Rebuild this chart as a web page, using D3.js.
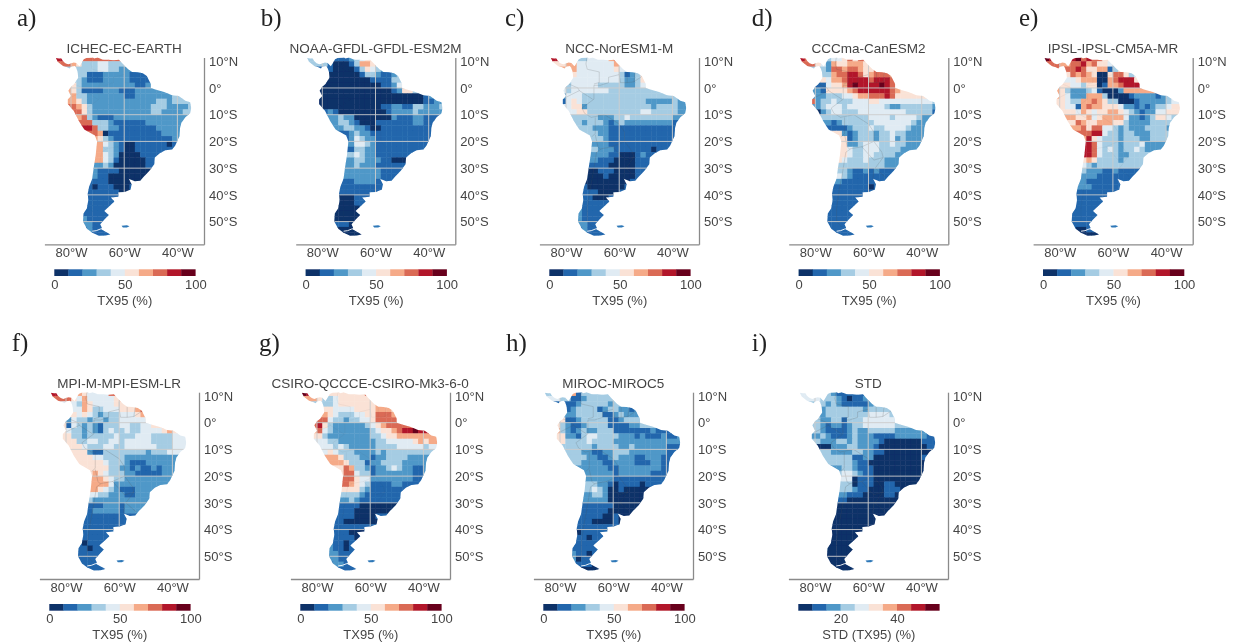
<!DOCTYPE html>
<html><head><meta charset="utf-8">
<script src="https://cdn.jsdelivr.net/npm/d3@7"></script>
<style>html,body{margin:0;background:#fff}svg{display:block}text{font-family:"Liberation Sans",Arial,sans-serif;fill:#444}</style>
</head><body><svg id="c" width="1240" height="644"></svg>
<script>
// class index per 2-degree cell; rows run north to south, columns west to east
const cellsA=["88... 77777 77","..765 33344 3334","....3 33344 33222","....3 31112 22221 111","....3 21112 22221 111","...53 22222 22222 1122","..653 11112 22111 22222 2","..663 32222 22211 22222 2233","...65 32222 22222 22223 323333","...76 53222 22222 22233 322223","....7 53222 22222 22233 222233","....6 73211 12222 22222 22222","..... 77333 21111 11222 2222","..... 88733 22111 11112 2222","..... ..760 11111 11111 2222","..... ..653 21111 11111 1122","..... ...64 32100 11111 101","..... ...63 32100 11111 111","..... ...64 32000 01111","..... ...64 31000 00111","..... ...23 20000 00111","..... ..211 11000 000","..... ..211 00000 000","..... ..111 00000","..... .1011 10001","..... .1111 11001","..... .1111 11","..... .1111 11","..... 11111 11","..... 11111 11","..... 21111 1","..... 22111 1","..... 12111 1","..... ..111 11"];
const cellsB=["33... 11123 455","..331 00013 6654","....1 00001 35432","....0 00000 13321 123","....0 00000 00111 133","...00 00000 00001 1245","..000 00000 00000 01255 3","..000 00000 00000 00000 0012","...00 00000 00000 00000 001122","...00 00000 00001 12211 332223","...12 10000 00000 12222 32222","....2 23220 00000 02111 22111","..... 23321 00011 11111 2211","..... 22332 21001 11111 1111","..... ..123 22111 11111 1111","..... ..124 32211 11111 111","..... ...24 43211 11111 111","..... ...13 32211 11111 11","..... ...34 32211 11111","..... ...23 32221 1000","..... ...23 22211 1111","..... ..222 22221 111","..... ..222 22221 11","..... ..112 22211","..... .1111 11111","..... .1111 1111","..... .0001 11","..... .0001 1","..... 00000 1","..... 00000 0","..... 00000","..... 11100","..... 00000","..... ..000 0"];
const cellsC=["8.... 33444 467","..566 44444 4465","....6 44444 44544","....5 44444 44431 235","....4 44444 44432 235","...34 44443 33332 234","..434 44444 43333 33333 3","..244 43333 33333 33333 3333","..145 43333 33333 33322 222322","...45 52333 33333 33332 333322","....4 55333 33333 33443 33332","....3 33332 22334 33333 33322","..... 32333 21232 22222 2221","..... 33322 21111 11111 1111","..... ..332 21111 11111 1111","..... ..333 21111 11111 111","..... ...22 21111 11111 11","..... ...32 22111 11110 11","..... ...22 21100 01211","..... ...21 11000 0111","..... ..111 10000 011","..... ..001 11000 0111","..... ..000 10000 01","..... ..000 00000 1","..... .1000 00001","..... .1110 0001","..... .1100 01","..... .1111 11","..... 21111 1","..... 21111 1","..... 21111","..... 22111","..... 12111","..... ..111 1"];
const cellsD=["87... 34457 57","..754 26556 6655","....3 27767 76557","....3 36778 87567 776","....5 46678 88878 887","...11 45568 98888 9876","...21 55556 78888 88765","..222 33344 56677 78755 5555","..723 34333 44455 44444 444443","...23 44434 44444 43223 333332","...02 34433 34444 44444 333331","....3 33333 33344 44344 44322","..... 21233 33334 44444 4322","..... 11112 33343 34444 3222","..... ..521 23332 33433 2222","..... ..551 23332 33423 222","..... ...52 23444 33433 222","..... ...54 33444 33332 22","..... ...54 33443 33322","..... ..543 33433 3222","..... ..333 33333 3222","..... ..332 11212 111","..... ..432 11111 11","..... ..211 11111","..... .1111 11101","..... .1111 1111","..... .1111 11","..... .1111 11","..... 11111 1","..... 11111 1","..... 11111","..... 11111","..... 11111","..... ..111 1"];
const cellsE=["98... 89787 75","..766 77867 5543","....7 78755 66135","....5 76765 00577 534","....4 45666 00678 885","...55 44355 01667 888","..653 22234 10002 66666 6","..654 22266 63000 01222 2123","...54 33667 65330 00122 222344","...54 41676 65554 22121 233455","...55 54654 55665 43212 24455","....6 65564 56666 42212 35543","..... 57655 66655 32222 3333","..... 66757 74432 32223 3332","..... ..778 84332 33222 3333","..... ..685 43332 33322 333","..... ...87 43332 33342 2222","..... ...87 43432 33432 22","..... ...87 43332 23333","..... ..565 33332 3333","..... ..432 33333 3333","..... ..322 21121 1111","..... ..222 11111 11","..... ..211 11111","..... .2221 11111","..... .1111 1111","..... .1111 11","..... .1111 11","..... 11111 1","..... 11111 1","..... 11111","..... 11111","..... 10011","..... ..000 0"];
const cellsF=["88... 65444 47","..775 46444 4456","....4 36544 44555","....4 46533 44455 567","....5 45432 33344 456","...24 33233 23344 4445","..514 32321 33344 33445 56","..543 32321 34334 33444 4565","...53 32333 33433 34443 333444","...55 33443 34434 44443 333444","....5 54333 44334 44444 33344","....5 55211 33333 33323 3344","..... 55544 33332 22222 2222","..... 55555 43332 11122 2222","..... ..555 53322 12112 1222","..... ..565 43332 21111 1222","..... ...66 54332 22222 222","..... ...66 64222 22222 22","..... ...65 43211 12222","..... ...43 32221 1222","..... ..322 22222 222","..... ..111 22212 222","..... ..122 22212 22","..... .1111 11111","..... .1111 1111","..... .1111 1111","..... .1111 11","..... .1111 11","..... 10111 1","..... 11011 1","..... 11111","..... 11111","..... 11111","..... ..111 1"];
const cellsG=["98... 55555 557","..653 34555 5555","....3 34555 55556","....5 54444 55556 665","...66 54333 44557 776","...77 43323 34457 7775","..785 32222 22345 67777 7","..674 32222 22234 55678 898","...53 22222 22233 45566 666666","...44 33222 22223 34444 456566","....4 43432 22223 33344 44434","....4 54333 22223 23333 3333","..... 66533 32212 23333 2222","..... 66653 33122 33332 2222","..... ..576 33212 23432 2112","..... ..577 43312 22222 2112","..... ...77 54422 22222 211","..... ...76 54311 11221 11","..... ...55 53211 11111","..... ...33 32111 1111","..... ..223 21111 111","..... ..111 10000 000","..... ..111 00000 00","..... .1111 00001","..... .1100 00000","..... .1111 11","..... .1110 001","..... .1111 01","..... 21101 1","..... 21101 1","..... 22111","..... 22111","..... 12211","..... ..111 1"];
const cellsH=["33... 61333 3","..433 11233 3333","....1 12333 33233","....1 23333 12332 212","....2 23333 31123 222","...51 12333 33112 3332","..532 11233 33111 12233 3","..632 12322 33311 11111 2111","...52 21344 33332 22121 112112","...53 33343 33322 22222 222222","....3 33332 33332 23222 22211","..... 33221 12233 32222 2221","..... 33322 11232 22112 2211","..... 33222 21122 22111 2211","..... ..222 22112 22222 221","..... ..222 22212 22222 1111","..... ...22 22211 11111 111","..... ...33 22101 11101 11","..... ...34 32001 00000 1","..... ...23 32000 00000","..... ..222 22000 0000","..... ..111 11100 000","..... ..111 11000 00","..... .1111 10010","..... .1110 00010","..... .1111 1111","..... .0111 1","..... .1101 1","..... 11111 1","..... 11111","..... 21101","..... 20111","..... 11110","..... ..000"];
const cellsI=["44... 32111 111","..443 33210 1122","....3 23211 11123","....2 33333 33233 333","....2 33333 33344 443","...32 23313 33444 4443","..332 12212 33444 44433 3","..332 11112 32233 33322 2222","...23 21112 32221 11122 222211","...32 22332 32222 10000 000111","....0 02223 32221 00000 00001","....3 32222 33221 10000 0000","..... 33333 11220 00000 0001","..... 33333 21100 00000 0000","..... ..233 21110 00000 000","..... ..344 32110 00000 000","..... ...44 01110 00000 00","..... ...33 01110 01100 0","..... ...33 21100 01110","..... ...21 11000 0110","..... ..110 00000 0","0","0","0","0","0","0","0","0","0","0","0","0","0"];
const letters=["a)","b)","c)","d)","e)","f)","g)","h)","i)"];
const titles=["ICHEC-EC-EARTH","NOAA-GFDL-GFDL-ESM2M","NCC-NorESM1-M","CCCma-CanESM2","IPSL-IPSL-CM5A-MR","MPI-M-MPI-ESM-LR","CSIRO-QCCCE-CSIRO-Mk3-6-0","MIROC-MIROC5","STD"];
const latTicks=[10,0,-10,-20,-30,-40,-50];
const latLabels=["10°N","0°","10°S","20°S","30°S","40°S","50°S"];
const lonTicks=[-80,-60,-40];
const lonLabels=["80°W","60°W","40°W"];
const classColors=["#0b3068","#2166ac","#5098c8","#a5cce3","#e0ebf3","#fae2d6","#f5aa88","#da6a55","#b2182b","#67001f"];
const tx95Ticks=[0,50,100];
const stdTicks=[20,40];
// land outline, lon/lat
const coast=[[-85.7,11.2],[-84.5,11],[-83.6,11],[-83,10],[-82,9.2],[-81,8.9],[-80,9.2],[-79,9.5],[-78,9.3],[-77.3,8.6],[-76.8,8.1],[-76,9.3],[-75.2,10.7],[-74.2,11.2],[-73,11.3],[-71.7,11.4],[-71.3,11],[-70,11.4],[-68,10.6],[-66,10.6],[-64,10.4],[-62,10.6],[-61,9.5],[-60,8.5],[-58.5,7],[-57,6],[-55,5.9],[-53,5.5],[-51.5,4.5],[-50,1.5],[-50,0],[-48,-0.7],[-45,-1.5],[-42,-2.7],[-39.5,-3],[-37,-4.8],[-35.2,-5.3],[-34.8,-7.5],[-35.2,-9.5],[-37,-11],[-38.5,-13],[-39,-15],[-39.2,-18],[-40.8,-21.5],[-42,-23],[-44.5,-23.3],[-46.5,-24.3],[-48.5,-26],[-48.7,-28.5],[-50.5,-31],[-52.5,-33],[-54,-34.7],[-56,-34.9],[-58.3,-34],[-57.2,-36],[-57.6,-38],[-59.8,-38.9],[-62.2,-39],[-62.2,-40.7],[-65,-41],[-63.7,-42.5],[-65.3,-44],[-67.5,-46],[-65.8,-47.5],[-67.7,-49.5],[-69,-51],[-68.4,-52.4],[-68.5,-53],[-65.2,-54.8],[-67,-55.2],[-69.5,-55.3],[-72,-54.2],[-74,-52.7],[-75.5,-50],[-75.3,-47],[-74,-45],[-73.5,-42],[-73.7,-39.5],[-73.2,-37],[-72,-34],[-71.5,-30],[-70.7,-25],[-70.2,-20],[-71,-17.8],[-75,-15.5],[-77,-12.5],[-79,-8.5],[-81.2,-6],[-81.2,-4.3],[-80,-3],[-81,-1],[-80,0.5],[-78.8,1.5],[-77.3,3.8],[-77.5,6],[-78,7.5],[-78.5,8.2],[-80,8],[-80.5,7.3],[-81.7,7.8],[-83,8.2],[-85,9.8]];
const falkland=[[-61,-51.6],[-59,-51.4],[-58,-51.7],[-59,-52.2],[-60.5,-52.2]];
const strait=[[-72,-53.6],[-70.5,-53.4],[-69,-52.8],[-68.2,-52.6]];
const borders=[[[-72,12],[-72.5,9],[-72,7],[-67.5,6],[-67.5,2],[-69.5,1.5]],[[-60,8],[-60,5],[-64,4],[-64,2],[-67,1],[-69.5,1],[-69.5,-4.2],[-74,-7.5],[-73,-9.5],[-70.5,-11],[-65.5,-10],[-60,-13.5],[-58,-16.5],[-58,-20],[-55,-24],[-54.5,-26],[-57.5,-30],[-53.5,-33.5]],[[-80,-3.5],[-75,-1],[-70,-4.2]],[[-79,1.5],[-75.5,0],[-75,-1]],[[-69,-11],[-69,-17],[-70.3,-18.3]],[[-69,-17.5],[-68,-22],[-67,-23],[-68.5,-24],[-70,-33],[-71,-38],[-72,-45],[-72,-50],[-70,-52]],[[-67,-22.8],[-62.5,-22],[-58,-20]],[[-62.5,-22],[-58,-27],[-54.5,-26]],[[-58.3,-34],[-58,-30.5]],[[-60,5],[-59.5,2],[-57,2],[-54.5,2.3],[-51.5,4.3]],[[-57,6],[-57,2]],[[-54,5.8],[-54.5,2.3]]];
const borderAlpha=[0.08,0.08,0.3,0.3,0.1,0.35,0.1,0.3,0.35];

const allCells=[cellsA,cellsB,cellsC,cellsD,cellsE,cellsF,cellsG,cellsH,cellsI];
const spineX=[204,455.3,699,948.3,1192.7,199,450,693,948];
const letterX=[17,260.7,505,751.7,1019,11.7,259,506,751.7];
const topY=[57.5,392.2];
const W=159.6,H=186.8;
const x=d3.scaleLinear([-90,-30],[0,W]);
const y=d3.scaleLinear([11.4,-58.5],[0,H]);
const line=d3.line().x(d=>x(d[0])).y(d=>y(d[1]));

const svg=d3.select("#c");
const defs=svg.append("defs");
const addBlur=(id,s)=>defs.append("filter").attr("id",id).attr("x","-3%").attr("y","-3%").attr("width","106%").attr("height","106%").append("feGaussianBlur").attr("stdDeviation",s);
addBlur("soft",0.35);
addBlur("softMap",0.75);
const root=svg.append("g").attr("filter","url(#soft)");

function expand(row){
  const s=row.replace(/ /g,"");
  const out=[];let last=null;
  for(let j=0;j<26;j++){const c=s[j];if(c!==undefined&&c!=="."){last=+c;}out.push(last);}
  const first=out.find(v=>v!==null);
  return out.map(v=>v===null?first:v);
}

allCells.forEach((rows,p)=>{
  const isStd=p===8;
  const dom=isStd?[5,55]:[0,100];
  const step=(dom[1]-dom[0])/10;
  const color=d3.scaleQuantize(dom,classColors);
  const row2=p>=5;
  const g=root.append("g").attr("transform",`translate(${spineX[p]-W},${topY[row2?1:0]})`);
  const cid="land"+p;
  defs.append("clipPath").attr("id",cid).append("path").attr("d",line(coast)+"Z");
  const mapG=g.append("g").attr("filter","url(#softMap)");
  const land=mapG.append("g").attr("clip-path",`url(#${cid})`);
  const cells=rows.flatMap((r,i)=>expand(r).map((k,j)=>({lon:-86+2*j,lat:12-2*i,v:dom[0]+step*(k+.5)})));
  land.selectAll("rect").data(cells).join("rect")
    .attr("x",d=>x(d.lon)).attr("y",d=>y(d.lat))
    .attr("width",x(2)-x(0)+.4).attr("height",y(-2)-y(0)+.4)
    .attr("fill",d=>color(d.v));
  land.selectAll("path.b").data(borders).join("path").attr("class","b").attr("d",line)
    .attr("fill","none").attr("stroke","#555").attr("stroke-width",.6).attr("stroke-opacity",borderAlpha[p]);
  latTicks.slice(1).forEach(t=>land.append("line").attr("x1",0).attr("x2",W).attr("y1",y(t)).attr("y2",y(t)).attr("stroke","#ccc").attr("stroke-width",1).attr("stroke-opacity",.9));
  lonTicks.forEach(t=>land.append("line").attr("y1",0).attr("y2",H).attr("x1",x(t)).attr("x2",x(t)).attr("stroke","#ccc").attr("stroke-width",1).attr("stroke-opacity",.9));
  mapG.append("path").attr("d",line(strait)).attr("fill","none").attr("stroke","#fff").attr("stroke-width",.9);
  g.append("path").attr("d",line(falkland)+"Z").attr("fill","#2f78b8");

  const ay=g.append("g").attr("transform",`translate(${W},0)`)
    .call(d3.axisRight(y).tickValues(latTicks).tickSize(0).tickPadding(5).tickFormat((d,i)=>latLabels[i]));
  const ax=g.append("g").attr("transform",`translate(0,${H})`)
    .call(d3.axisBottom(x).tickValues(lonTicks).tickSize(0).tickPadding(3.5).tickFormat((d,i)=>lonLabels[i]));
  [ay,ax].forEach(a=>{a.select(".domain").attr("stroke","#8a8a8a").attr("stroke-width",1.3);a.selectAll("text").style("font-size","13px").style("font-family",'"Liberation Sans",Arial,sans-serif');});

  g.append("text").attr("x",W/2).attr("y",-8.8).attr("text-anchor","middle").attr("dominant-baseline","central").style("font-size","13.5px").text(titles[p]);

  // colour bar
  const cb=d3.scaleLinear(dom,[9.9,150.9]);
  const cbY=211.8,cbH=6.7;
  const cg=g.append("g");
  cg.selectAll("rect").data(classColors).join("rect")
    .attr("x",(d,i)=>cb(dom[0]+i*step)).attr("y",cbY)
    .attr("width",cb(dom[0]+step)-cb(dom[0])+.3).attr("height",cbH).attr("fill",d=>d);
  const cax=cg.append("g").attr("transform",`translate(0,${cbY+cbH})`)
    .call(d3.axisBottom(cb).tickValues(isStd?stdTicks:tx95Ticks).tickSize(0).tickPadding(3.3).tickFormat(d3.format("d")));
  cax.select(".domain").remove();
  cax.selectAll("text").style("font-size","13px").style("font-family",'"Liberation Sans",Arial,sans-serif');
  g.append("text").attr("x",(cb.range()[0]+cb.range()[1])/2).attr("y",242.5).attr("text-anchor","middle").attr("dominant-baseline","central").style("font-size","13px").text(isStd?"STD (TX95) (%)":"TX95 (%)");

  root.append("text").attr("x",letterX[p]).attr("y",row2?351:26).style("font-family",'"Liberation Serif",serif').style("font-size","25px").style("fill","#222").text(letters[p]);
});
</script></body></html>
